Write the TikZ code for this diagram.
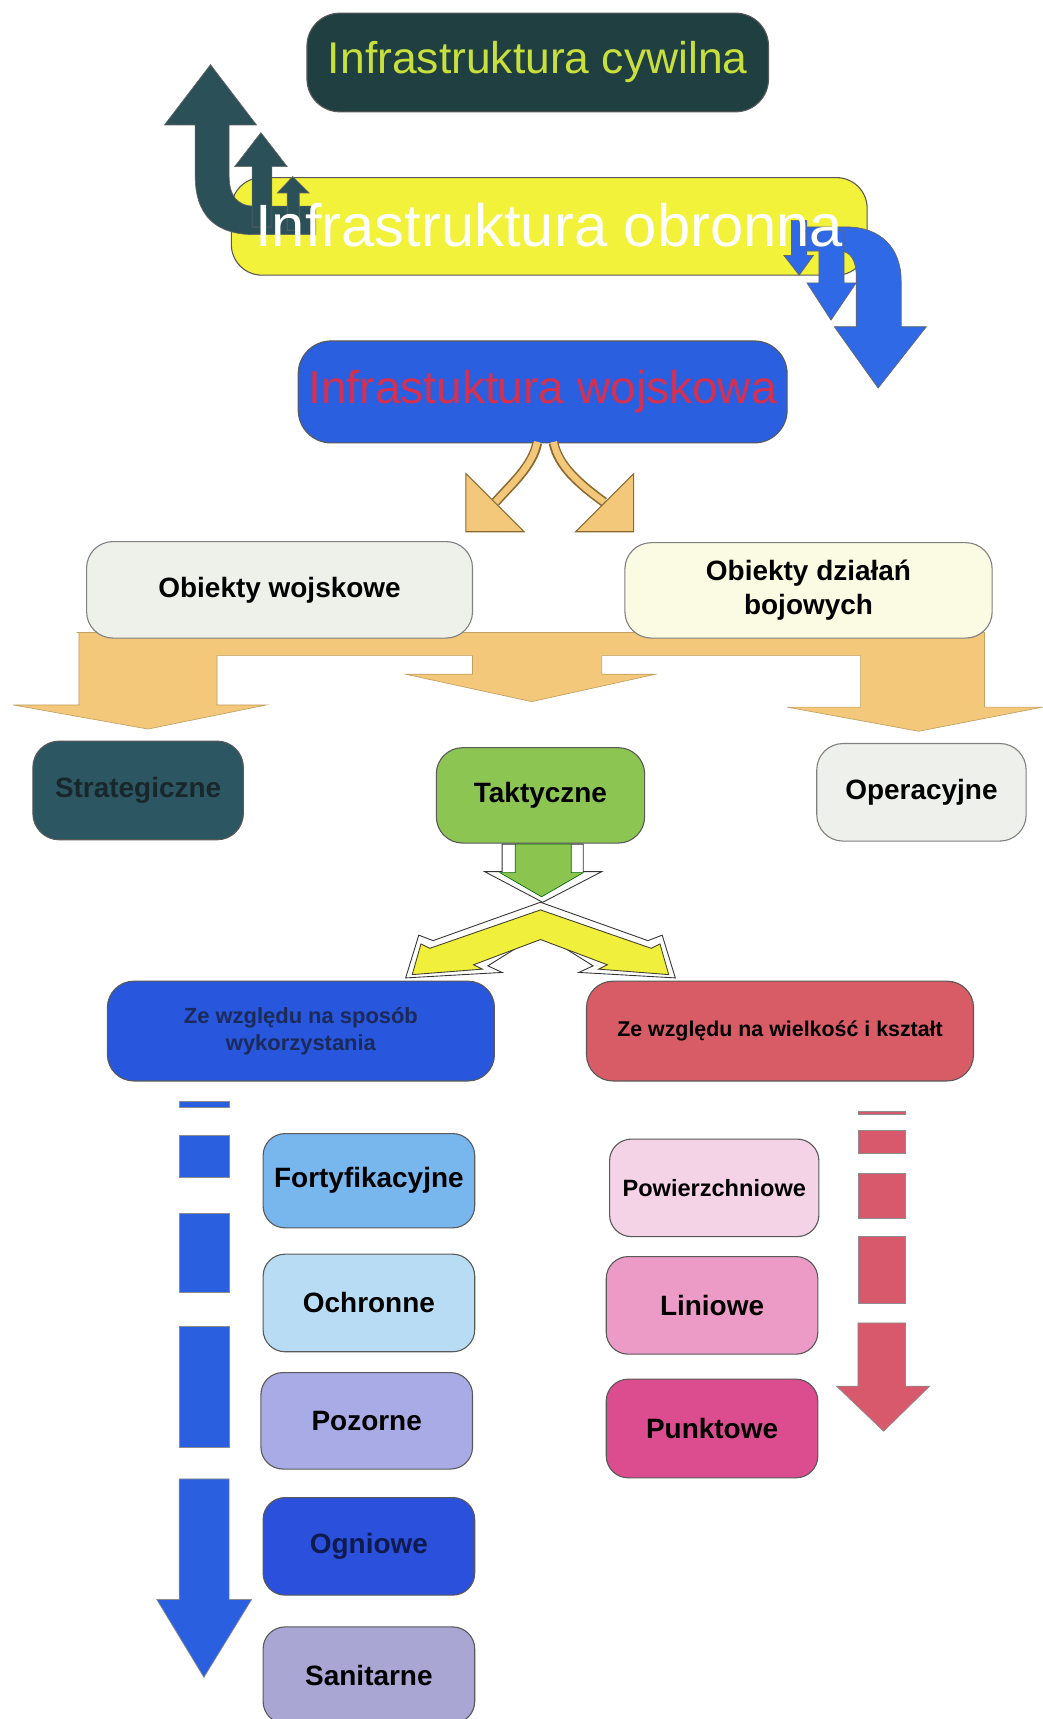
\documentclass[tikz,border=0pt]{standalone}
\usepackage{fontspec}
\setmainfont{Liberation Sans}
\newcommand\setfs[2]{\fontsize{#1}{#2}\selectfont}

\definecolor{civfill}{HTML}{203F40}
\definecolor{civtext}{HTML}{C8E03C}
\definecolor{tealarr}{HTML}{2B5058}
\definecolor{obryel}{HTML}{F2F23A}
\definecolor{bluearr}{HTML}{3069E6}
\definecolor{wojfill}{HTML}{2A5FE0}
\definecolor{wojtext}{HTML}{D63050}
\definecolor{tan}{HTML}{F3C87A}
\definecolor{tanedge}{HTML}{8A6A30}
\definecolor{owfill}{HTML}{EEF1EA}
\definecolor{odbfill}{HTML}{FBFBE4}
\definecolor{strfill}{HTML}{2D5663}
\definecolor{strtext}{HTML}{17272C}
\definecolor{takfill}{HTML}{8CC552}
\definecolor{opefill}{HTML}{EEF0EB}
\definecolor{zsfill}{HTML}{2856DC}
\definecolor{zstext}{HTML}{1C2A5A}
\definecolor{zwfill}{HTML}{D85C66}
\definecolor{fortfill}{HTML}{78B6EE}
\definecolor{ochrfill}{HTML}{B9DCF5}
\definecolor{pozfill}{HTML}{A9ABE6}
\definecolor{ognfill}{HTML}{2B50DC}
\definecolor{ogntext}{HTML}{0F1B4E}
\definecolor{sanfill}{HTML}{A9A6D4}
\definecolor{powfill}{HTML}{F5D3E7}
\definecolor{linfill}{HTML}{EC9BC6}
\definecolor{punfill}{HTML}{DC4D8F}
\definecolor{redseg}{HTML}{D8586C}
\definecolor{greenarr}{HTML}{8CC450}
\definecolor{chevyel}{HTML}{F0F03C}

\begin{document}
\begin{tikzpicture}[x=1pt,y=-1pt,
  every node/.style={inner sep=0pt, align=center},
  box/.style={draw=black!65, line width=1pt, rounded corners=24pt},
  lbl/.style={font={\bfseries\setfs{25.5}{31}}},
  seg/.style={draw=black!45, line width=0.6pt},
  blockarrow/.style={draw=black!60, line width=0.6pt}]

\fill[white] (0,0) rectangle (951,1568);
\useasboundingbox (0,0) rectangle (951,1568);

% ---- top level ----
\node[box, rounded corners=30pt, fill=civfill, minimum width=421pt, minimum height=90pt,
      text=civtext, font={\setfs{40.5}{46}}] (civ) at (490.5,57) {Infrastruktura cywilna};

\node[box, rounded corners=28pt, fill=obryel, minimum width=580pt, minimum height=89pt] (obr) at (501,206.5) {};

% curved and straight arrows towards the civil infrastructure
\filldraw[tealarr, blockarrow]
  (209,114) -- (234,114) -- (192,59) -- (150,114) -- (178,114) -- (178,160)
  .. controls (178,196) and (196,214) .. (232,214) -- (288,214) -- (288,188) -- (232,188)
  .. controls (216,188) and (209,178) .. (209,160) -- cycle;
\filldraw[tealarr, blockarrow]
  (230,207) -- (230,152) -- (214,152) -- (238,121) -- (262,152) -- (248,152) -- (248,207) -- cycle;
\filldraw[tealarr, blockarrow]
  (262,210) -- (262,176) -- (253,176) -- (267,161) -- (282,176) -- (273,176) -- (273,210) -- cycle;

% curved and straight arrows towards the military infrastructure
\filldraw[bluearr, blockarrow]
  (722,207) -- (772,207) .. controls (803,207) and (822,226) .. (822,256) -- (822,298)
  -- (845,298) -- (801,354) -- (761,298) -- (781,298) -- (781,252)
  .. controls (781,238) and (776,229) .. (766,229) -- (722,229) -- cycle;
\filldraw[bluearr, blockarrow]
  (747,210) -- (770,210) -- (770,258) -- (781,258) -- (758,292) -- (736,258) -- (747,258) -- cycle;
\filldraw[bluearr, blockarrow]
  (722,201) -- (736,201) -- (736,233) -- (742,233) -- (729,251) -- (715,233) -- (722,233) -- cycle;

\node[text=white, font={\setfs{54.5}{60}}] (obrlbl) at ([yshift=1pt]obr.center) {Infrastruktura obronna};

\node[box, rounded corners=30pt, fill=wojfill, minimum width=446pt, minimum height=93pt,
      text=wojtext, font={\setfs{42}{48}}] (woj) at (495,357.5) {Infrastuktura wojskowa};

% two curved arrows below the military infrastructure
\draw[tanedge, line width=9pt] (490,404) .. controls (486,425) and (466,442) .. (452,458);
\draw[tan, line width=6pt] (490,403) .. controls (486,425) and (466,442) .. (452,458);
\draw[tanedge, line width=9pt] (505,404) .. controls (509,425) and (529,442) .. (551,458);
\draw[tan, line width=6pt] (505,403) .. controls (509,425) and (529,442) .. (551,458);
\filldraw[fill=tan, draw=tanedge, line width=1pt] (425,432) -- (425,485) -- (478,485) -- cycle;
\filldraw[fill=tan, draw=tanedge, line width=1pt] (578,432) -- (578,485) -- (525,485) -- cycle;

% wide distributing arrow
\filldraw[fill=tan, draw=tan!80!black, line width=0.6pt]
  (70,577) -- (898,577) -- (898,645) -- (951,645) -- (838,667) -- (718,645) -- (785,645)
  -- (785,598) -- (549,598) -- (549,615) -- (598,615) -- (485,640) -- (370,615)
  -- (431,615) -- (431,598) -- (198,598) -- (198,643) -- (243,643) -- (135,665)
  -- (12,643) -- (72,643) -- (72,577) -- cycle;

\node[box, fill=owfill, draw=black!50, minimum width=352pt, minimum height=88pt, lbl] (ow) at (255,538) {Obiekty wojskowe};
\node[box, fill=odbfill, draw=black!50, minimum width=335pt, minimum height=87pt, lbl] (odb) at (737.5,538.5) {Obiekty działań\\bojowych};

% ---- second level ----
\node[box, fill=strfill, minimum width=192pt, minimum height=90pt, lbl, text=strtext] (str) at (126,721) {Strategiczne};
\node[box, fill=takfill, minimum width=190pt, minimum height=87pt, lbl] (tak) at (493,725.5) {Taktyczne};
\node[box, fill=opefill, draw=black!50, minimum width=191pt, minimum height=89pt, lbl] (ope) at (840.5,722.7) {Operacyjne};

% split arrow below the tactical box
\filldraw[fill=white, draw=black!80, line width=0.8pt]
  (493,823) -- (395,858) -- (382,853) -- (370,892) -- (458,887) -- (445,881) -- (493,851)
  -- (541,881) -- (528,887) -- (616,892) -- (604,853) -- (591,858) -- cycle;
\filldraw[fill=white, draw=black!80, line width=0.8pt]
  (458,770) -- (532,770) -- (532,795) -- (549,795) -- (495,823) -- (442,795) -- (458,795) -- cycle;
\filldraw[fill=chevyel, draw=black!70!olive, line width=0.8pt]
  (493,830) -- (392,865) -- (384,861) -- (376,889) -- (440,884) -- (432,880) -- (493,857)
  -- (554,880) -- (546,884) -- (610,889) -- (602,861) -- (594,865) -- cycle;
\filldraw[fill=greenarr, draw=black!60!green, line width=0.6pt]
  (470,770) -- (521,770) -- (521,796) -- (532,796) -- (494,818) -- (456,796) -- (470,796) -- cycle;

% ---- third level ----
\node[box, fill=zsfill, minimum width=353pt, minimum height=91pt, text=zstext,
      font={\bfseries\setfs{20}{24}}] (zs) at (274.5,940.5) {Ze względu na sposób\\wykorzystania};
\node[box, fill=zwfill, minimum width=353pt, minimum height=91pt,
      font={\bfseries\setfs{19.5}{24}}] (zw) at (711.5,940.5) {Ze względu na wielkość i kształt};

% left column
\filldraw[fill=wojfill, seg] (163.5,1005) rectangle (209,1010);
\filldraw[fill=wojfill, seg] (163.5,1036) rectangle (209,1074);
\filldraw[fill=wojfill, seg] (163.5,1107) rectangle (209,1179);
\filldraw[fill=wojfill, seg] (163.5,1210) rectangle (209,1320);
\filldraw[fill=wojfill, seg]
  (163.5,1349) -- (209,1349) -- (209,1459) -- (229.5,1459) -- (186,1530) -- (143,1459) -- (163.5,1459) -- cycle;

\node[box, rounded corners=20pt, fill=fortfill, minimum width=193pt, minimum height=86pt, lbl] (fort) at (336.5,1077) {Fortyfikacyjne};
\node[box, rounded corners=20pt, fill=ochrfill, minimum width=193pt, minimum height=89pt, lbl] (ochr) at (336.5,1188.5) {Ochronne};
\node[box, rounded corners=20pt, fill=pozfill, minimum width=193pt, minimum height=88pt, lbl] (poz) at (334.5,1296) {Pozorne};
\node[box, rounded corners=20pt, fill=ognfill, minimum width=193pt, minimum height=89pt, lbl, text=ogntext] (ogn) at (336.5,1410.5) {Ogniowe};
\node[box, rounded corners=20pt, fill=sanfill, minimum width=193pt, minimum height=88pt, lbl] (san) at (336.5,1528) {Sanitarne};

% right column
\node[box, rounded corners=20pt, fill=powfill, minimum width=191pt, minimum height=89pt,
      font={\bfseries\setfs{21.5}{26}}] (pow) at (651.5,1083.5) {Powierzchniowe};
\node[box, rounded corners=20pt, fill=linfill, minimum width=193pt, minimum height=89pt, lbl] (lin) at (649.5,1190.7) {Liniowe};
\node[box, rounded corners=20pt, fill=punfill, minimum width=193pt, minimum height=90pt, lbl] (pun) at (649.5,1303) {Punktowe};

\filldraw[fill=redseg, seg] (782.6,1013.6) rectangle (826,1016.7);
\filldraw[fill=redseg, seg] (782.6,1031) rectangle (826,1052);
\filldraw[fill=redseg, seg] (782.6,1070) rectangle (826,1111);
\filldraw[fill=redseg, seg] (782.6,1127.6) rectangle (826,1188.4);
\filldraw[fill=redseg, seg]
  (782.6,1206.7) -- (826,1206.7) -- (826,1264.4) -- (848,1264.4) -- (806,1305.5) -- (763,1264.4) -- (782.6,1264.4) -- cycle;

\end{tikzpicture}
\end{document}
